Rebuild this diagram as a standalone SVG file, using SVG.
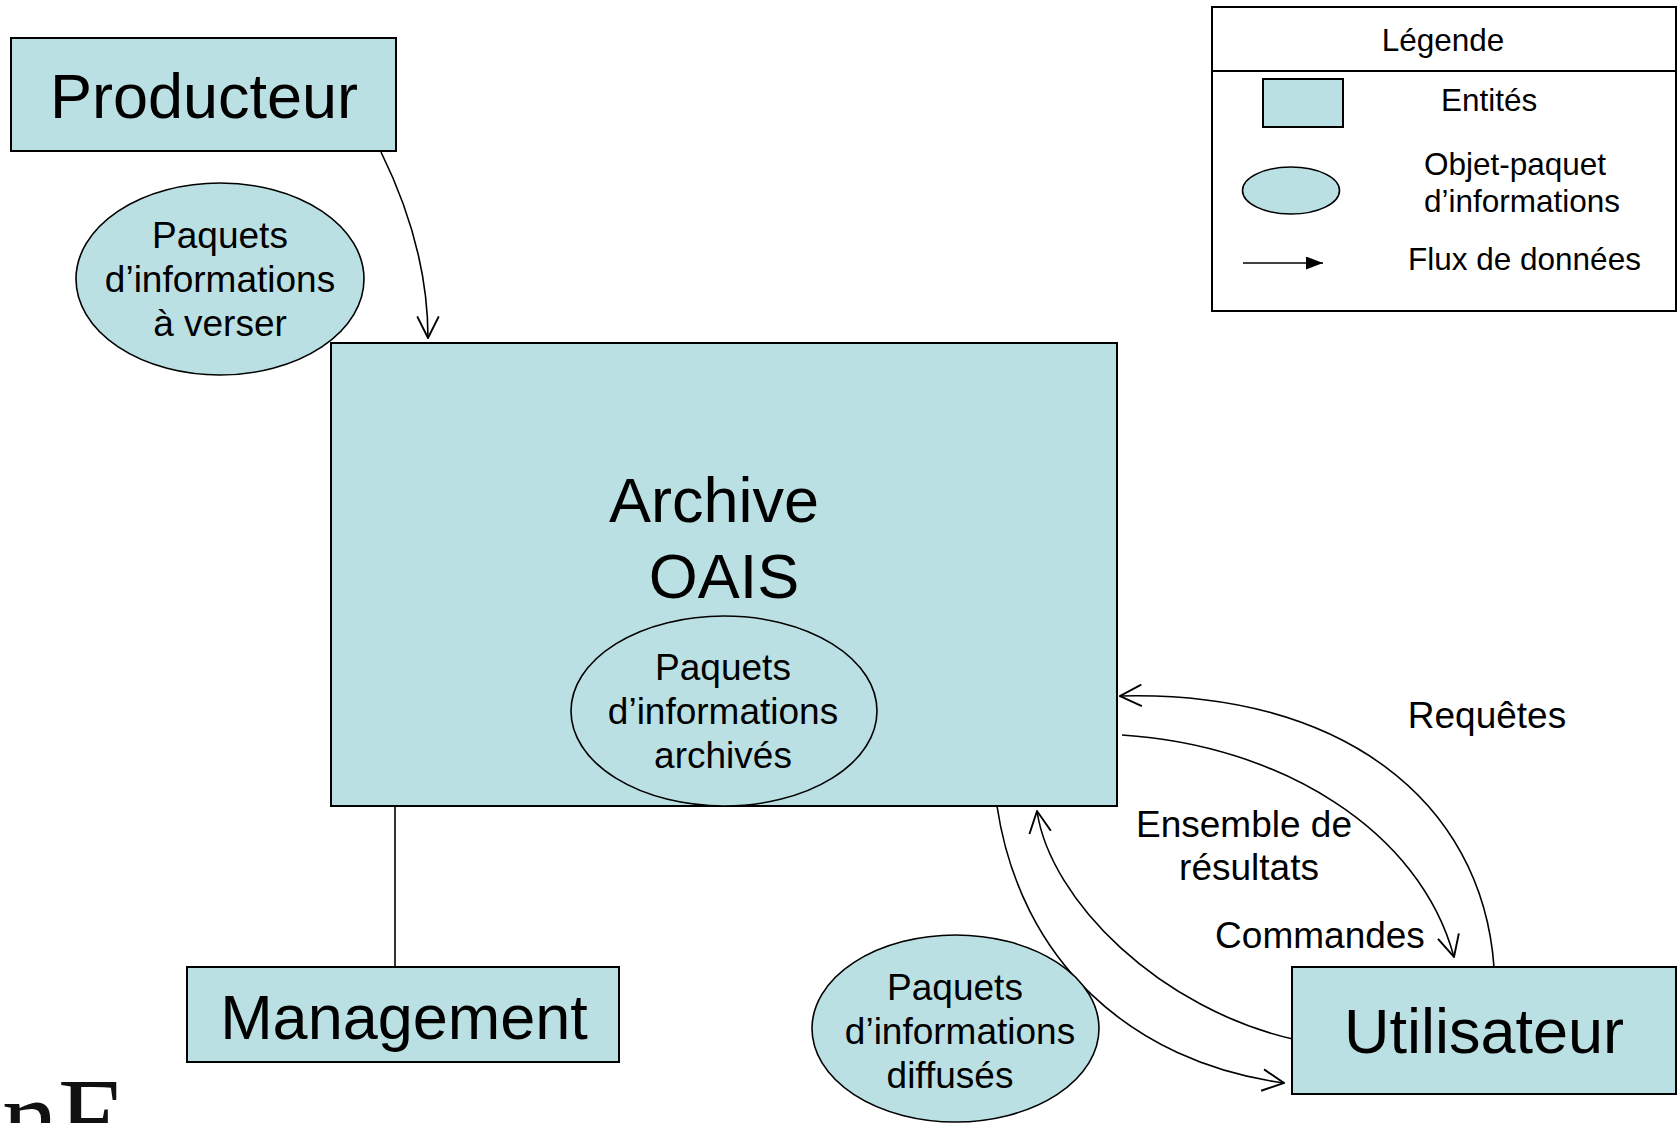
<svg xmlns="http://www.w3.org/2000/svg" width="1679" height="1123" viewBox="0 0 1679 1123">
<style>
.ent{fill:#BBE0E3;stroke:#000;stroke-width:2}
.obj{fill:#BBE0E3;stroke:#000;stroke-width:1.6}
.big{font-family:"Liberation Sans",Arial,sans-serif;font-size:63px;fill:#000;text-anchor:middle}
.mid{font-family:"Liberation Sans",Arial,sans-serif;font-size:37px;fill:#000;text-anchor:middle}
.leg{font-family:"Liberation Sans",Arial,sans-serif;font-size:31.5px;fill:#000}
.con{fill:none;stroke:#000;stroke-width:1.6}
</style>
<defs>
<marker id="open" markerUnits="userSpaceOnUse" markerWidth="24" markerHeight="24" viewBox="0 0 20 20" refX="19" refY="10" orient="auto">
<path d="M1,1 L19,10 L1,19" fill="none" stroke="#000" stroke-width="1.6"/>
</marker>
<marker id="solid" markerUnits="userSpaceOnUse" markerWidth="17" markerHeight="13" viewBox="0 0 17 13" refX="17" refY="6.5" orient="auto">
<path d="M0,0 L17,6.5 L0,13 Z" fill="#000"/>
</marker>
</defs>

<g id="connectors">
<path class="con" d="M381,152 C412,215 428,275 428,338" marker-end="url(#open)"/>
<line class="con" x1="395" y1="806" x2="395" y2="967"/>
<path class="con" d="M1494,967 C1482,800 1340,690 1120,696" marker-end="url(#open)"/>
<path class="con" d="M1122,735 C1280,745 1420,830 1454,957" marker-end="url(#open)"/>
<path class="con" d="M1297,1040 C1160,1010 1050,900 1037,811" marker-end="url(#open)"/>
<path class="con" d="M997,806 C1020,960 1130,1062 1284,1083" marker-end="url(#open)"/>
</g>

<g id="producteur">
<rect class="ent" x="11" y="38" width="385" height="113"/>
<text class="big" x="204" y="118">Producteur</text>
</g>

<g id="paquets-verser">
<ellipse class="obj" cx="220" cy="279" rx="144" ry="96"/>
<text class="mid" x="220" y="248">Paquets</text>
<text class="mid" x="220" y="292">d’informations</text>
<text class="mid" x="220" y="336">à verser</text>
</g>

<g id="archive">
<rect class="ent" x="331" y="343" width="786" height="463"/>
<text class="big" x="714" y="522">Archive</text>
<text class="big" x="724" y="598">OAIS</text>
</g>

<g id="paquets-archives">
<ellipse class="obj" cx="724" cy="711" rx="153" ry="95"/>
<text class="mid" x="723" y="680">Paquets</text>
<text class="mid" x="723" y="724">d’informations</text>
<text class="mid" x="723" y="768">archivés</text>
</g>

<g id="management">
<rect class="ent" x="187" y="967" width="432" height="95"/>
<text class="big" x="404" y="1039">Management</text>
</g>

<g id="utilisateur">
<rect class="ent" x="1292" y="967" width="384" height="127"/>
<text class="big" x="1484" y="1053">Utilisateur</text>
</g>

<g id="paquets-diffuses">
<ellipse class="obj" cx="955.5" cy="1028.5" rx="143.5" ry="93.5"/>
<text class="mid" x="955" y="1000">Paquets</text>
<text class="mid" x="960" y="1044">d’informations</text>
<text class="mid" x="950" y="1088">diffusés</text>
</g>

<g id="labels">
<text class="mid" x="1487" y="728">Requêtes</text>
<text class="mid" x="1244" y="837">Ensemble de</text>
<text class="mid" x="1249" y="880">résultats</text>
<text class="mid" x="1320" y="948">Commandes</text>
</g>

<g id="legende">
<rect x="1212" y="7" width="464" height="304" fill="#fff" stroke="#000" stroke-width="2"/>
<line x1="1212" y1="71" x2="1676" y2="71" stroke="#000" stroke-width="2"/>
<text class="leg" x="1443" y="51" text-anchor="middle">Légende</text>
<rect class="ent" x="1263" y="79" width="80" height="48"/>
<text class="leg" x="1441" y="111">Entités</text>
<ellipse class="obj" cx="1291" cy="190.5" rx="48.5" ry="23.5"/>
<text class="leg" x="1424" y="175">Objet-paquet</text>
<text class="leg" x="1424" y="212">d’informations</text>
<line x1="1243" y1="263" x2="1323" y2="263" stroke="#000" stroke-width="1.6" marker-end="url(#solid)"/>
<text class="leg" x="1408" y="270">Flux de données</text>
</g>

<text x="2" y="1156" font-family="'Liberation Serif','Times New Roman',serif" font-size="112" fill="#111">nF</text>
</svg>
